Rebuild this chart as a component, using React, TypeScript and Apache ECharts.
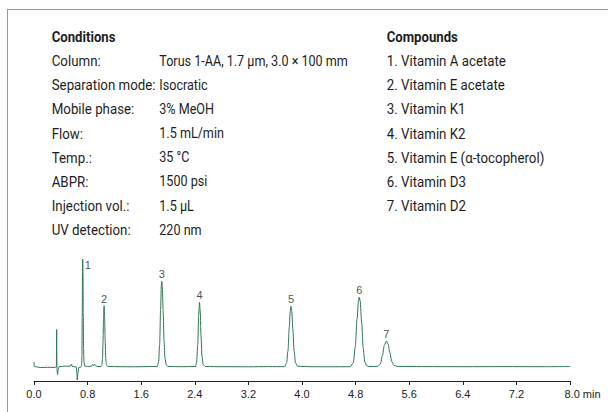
import React, { useEffect, useRef } from "react";
import * as echarts from "echarts";

// Chromatogram trace: [time (min), response (a.u., baseline = 0)]
const tracePoints: [number, number][] = [
  [0.0, 5], [0.005, 0.5], [0.05, 0], [0.1, -0.5], [0.2, -0.3], [0.3, -0.5],
  [0.334, 0], [0.338, 37.5], [0.342, 2], [0.346, -5], [0.352, -7.5], [0.36, -3], [0.375, 0.3],
  [0.45, 0.8], [0.52, 0.8], [0.552, 1.2], [0.56, 3], [0.568, 0.8], [0.6, 0.3],
  [0.632, 0], [0.64, -6], [0.645, -13], [0.652, -13], [0.658, -5], [0.668, -0.5], [0.7, 0],
  [0.71, 1], [0.716, 12], [0.72, 50], [0.724, 95], [0.727, 108], [0.731, 96], [0.735, 55],
  [0.74, 18], [0.746, 5], [0.756, 1], [0.8, 0.5], [0.86, 0.8], [0.875, 2.5], [0.89, 1.2],
  [0.905, 2.8], [0.92, 1.5], [0.94, 0.5], [1.0, 0.5],
  [1.012, 1.5], [1.022, 8], [1.03, 24], [1.038, 48], [1.046, 61.3], [1.054, 50], [1.062, 26],
  [1.07, 9], [1.08, 2.5], [1.1, 0.5], [1.3, 0.3], [1.5, 0.2], [1.7, 0.4],
  [1.84, 0.5], [1.86, 5], [1.875, 22], [1.89, 58], [1.9, 81], [1.907, 85.6], [1.915, 80],
  [1.928, 55], [1.942, 25], [1.956, 8], [1.975, 2], [2.0, 0.5], [2.2, 0.3],
  [2.41, 0.5], [2.428, 5], [2.443, 22], [2.458, 52], [2.47, 64.6], [2.48, 57], [2.493, 31],
  [2.507, 11], [2.525, 2.5], [2.56, 0.5], [2.8, 0.3], [3.2, 0.2], [3.5, 0.4],
  [3.74, 0.3], [3.77, 4], [3.79, 16], [3.81, 40], [3.825, 56], [3.835, 60.6], [3.847, 56],
  [3.863, 38], [3.882, 16], [3.902, 4.5], [3.93, 0.8], [4.1, 0.3], [4.4, 0.2],
  [4.72, 0.3], [4.765, 4], [4.795, 20], [4.822, 48], [4.843, 66], [4.855, 70], [4.868, 66],
  [4.89, 45], [4.913, 19], [4.937, 5], [4.965, 1.2], [5.0, 0.5],
  [5.13, 0.6], [5.17, 3], [5.2, 11.5], [5.23, 22], [5.26, 26], [5.285, 23], [5.31, 14.5],
  [5.34, 5.5], [5.37, 1.8], [5.42, 0.6], [5.8, 0.4], [6.4, 0.3], [7.0, 0.4], [7.6, 0.3],
  [8.0, 0.5],
];

const peakNumbers = ["1", "2", "3", "4", "5", "6", "7"];
const peakTimes = [0.727, 1.046, 1.907, 2.47, 3.835, 4.855, 5.26];
const peakHeights = [108, 61.3, 85.6, 64.6, 60.6, 70, 26];

const conditionLabels = [
  "Column:",
  "Separation mode:",
  "Mobile phase:",
  "Flow:",
  "Temp.:",
  "ABPR:",
  "Injection vol.:",
  "UV detection:",
];
const conditionValues = [
  "Torus 1-AA, 1.7 µm, 3.0 × 100 mm",
  "Isocratic",
  "3% MeOH",
  "1.5 mL/min",
  "35 °C",
  "1500 psi",
  "1.5 µL",
  "220 nm",
];
const compoundNames = [
  "1. Vitamin A acetate",
  "2. Vitamin E acetate",
  "3. Vitamin K1",
  "4. Vitamin K2",
  "5. Vitamin E (α-tocopherol)",
  "6. Vitamin D3",
  "7. Vitamin D2",
];

const xTickMin = 0;
const xTickMax = 8;
const xTickStep = 0.8;
const xUnit = "min";

export default function App() {
  const ref = useRef<HTMLDivElement>(null);

  useEffect(() => {
    if (!ref.current) return;
    const chart = echarts.init(ref.current, null, { renderer: "svg" });

    const textFont = "Roboto, 'Noto Sans', sans-serif";
    const rowY0 = 36.7;
    const rowStep = 24.17;

    const mkText = (x: number, y: number, text: string, sx: number, bold = false) => ({
      type: "text",
      x,
      y,
      scaleX: sx,
      silent: true,
      style: {
        text,
        fill: "#1e1e1e",
        font: `${bold ? "bold " : ""}14px ${textFont}`,
        verticalAlign: "middle",
        align: "left",
      },
    });

    const graphics: any[] = [
      {
        type: "line",
        shape: { x1: 7.5, y1: 9, x2: 7.5, y2: 412 },
        style: { stroke: "#9a9a9a", lineWidth: 1 },
        silent: true,
      },
      {
        type: "line",
        shape: { x1: 7, y1: 9.5, x2: 608, y2: 9.5 },
        style: { stroke: "#9a9a9a", lineWidth: 1 },
        silent: true,
      },
      mkText(51.7, rowY0, "Conditions", 0.94, true),
      mkText(386.7, rowY0, "Compounds", 0.94, true),
    ];
    conditionLabels.forEach((t, i) => {
      graphics.push(mkText(51.7, rowY0 + rowStep * (i + 1), t, 0.95));
      graphics.push(mkText(159.3, rowY0 + rowStep * (i + 1), conditionValues[i], 0.9));
    });
    compoundNames.forEach((t, i) => {
      graphics.push(mkText(386.7, rowY0 + rowStep * (i + 1), t, 0.95));
    });
    graphics.push({
      type: "text",
      x: 564.5,
      y: 394,
      silent: true,
      style: {
        text: `${xTickMax.toFixed(1)} ${xUnit}`,
        fill: "#222",
        font: "11px 'Liberation Sans', Arial, sans-serif",
        verticalAlign: "middle",
        align: "left",
      },
    });

    chart.setOption({
      animation: false,
      grid: { left: 34, right: 38, top: 257, bottom: 31, containLabel: false },
      xAxis: {
        type: "value",
        min: xTickMin,
        max: xTickMax,
        interval: xTickStep,
        axisLine: { onZero: false, lineStyle: { color: "#222", width: 1 } },
        axisTick: { show: true, inside: false, length: 4, lineStyle: { color: "#222" } },
        splitLine: { show: false },
        axisLabel: {
          margin: 7,
          fontSize: 11,
          color: "#222",
          fontFamily: "'Liberation Sans', Arial, sans-serif",
          formatter: (v: number) => (Math.abs(v - xTickMax) < 1e-6 ? "" : v.toFixed(1)),
        },
      },
      yAxis: {
        type: "value",
        min: -14,
        max: 110,
        show: false,
        splitLine: { show: false },
      },
      series: [
        {
          type: "line",
          data: tracePoints,
          showSymbol: false,
          symbol: "none",
          smooth: 0.3,
          smoothMonotone: "x",
          lineStyle: { color: "#2e7552", width: 1 },
          silent: true,
          z: 3,
        },
        {
          type: "scatter",
          symbolSize: 0,
          silent: true,
          data: peakNumbers.map((n, i) => ({
            value: [peakTimes[i], peakHeights[i]],
            name: n,
            label:
              i === 0
                ? { position: "right", distance: 2, offset: [0, 6] }
                : { position: "top", distance: 1.5 },
          })),
          label: {
            show: true,
            formatter: (p: any) => p.name,
            fontSize: 11,
            color: "#1e1e1e",
            fontFamily: "'Liberation Sans', Arial, sans-serif",
          },
          z: 4,
        },
      ],
      graphic: graphics,
    });

    return () => chart.dispose();
  }, []);

  return (
    <div
      ref={ref}
      style={{ position: "absolute", left: 0, top: 0, width: 608, height: 412 }}
    />
  );
}
